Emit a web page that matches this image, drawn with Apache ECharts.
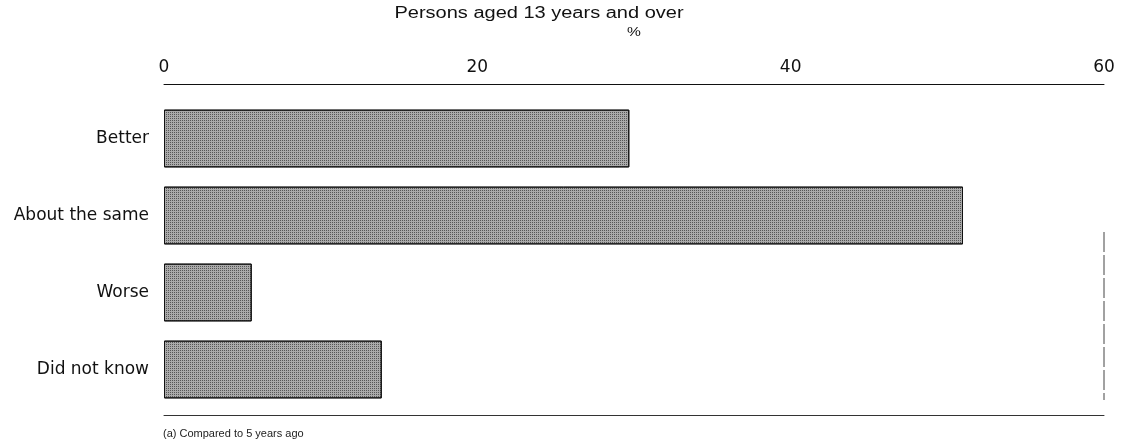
<!DOCTYPE html>
<html>
<head>
<meta charset="utf-8">
<script src="https://cdn.jsdelivr.net/npm/echarts@6/dist/echarts.min.js"></script>
<style>
  html, body { margin: 0; padding: 0; background: #fff; }
  #main { width: 1126px; height: 448px; }
</style>
</head>
<body>
<div id="main"></div>
<script>
var categories = ['Better', 'About the same', 'Worse', 'Did not know']
var values = [29.7, 51.0, 5.6, 13.9]
var xTicks = [0, 20, 40, 60]

var myChart = echarts.init(document.getElementById('main'))
var font = 'Liberation Sans, Arial, sans-serif'
var wide = 'DejaVu Sans, sans-serif'

myChart.setOption({
  animation: false,
  backgroundColor: '#fff',
  grid: { left: 164, right: 22, top: 100, height: 308 },
  xAxis: [
    {
      type: 'value',
      position: 'top',
      offset: 16,
      min: 0, max: 60, interval: 20,
      axisLine: { show: true, lineStyle: { color: '#111', width: 1 } },
      axisTick: { show: false },
      splitLine: { show: false },
      axisLabel: {
        margin: 8,
        fontFamily: wide, fontSize: 17, color: '#111',
        formatter: function (v) { return xTicks.indexOf(v) >= 0 ? String(v) : '' }
      }
    },
    {
      type: 'value',
      position: 'bottom',
      offset: 7,
      min: 0, max: 60, interval: 20,
      axisLine: { show: true, lineStyle: { color: '#333', width: 1 } },
      axisTick: { show: false },
      splitLine: { show: false },
      axisLabel: { show: false }
    }
  ],
  yAxis: {
    type: 'category',
    data: categories,
    inverse: true,
    axisLine: { show: false },
    axisTick: { show: false },
    splitLine: { show: false },
    axisLabel: { margin: 15, fontFamily: wide, fontSize: 17, color: '#111' }
  },
  graphic: [
    {
      type: 'text',
      x: 539, y: 6,
      scaleX: 1.25,
      style: {
        text: 'Persons aged 13 years and over',
        font: '16px ' + font, fill: '#111', align: 'center'
      }
    },
    {
      type: 'text',
      x: 634, y: 26,
      scaleX: 1.2,
      style: { text: '%', font: '13px ' + font, fill: '#111', align: 'center' }
    },
    {
      type: 'text',
      x: 163, y: 428,
      style: { text: '(a) Compared to 5 years ago', font: '11px ' + font, fill: '#222' }
    },
    {
      type: 'line',
      shape: { x1: 1104, y1: 232, x2: 1104, y2: 400 },
      style: { stroke: '#444', lineWidth: 1, lineDash: [20, 3] }
    }
  ],
  series: [
    {
      type: 'bar',
      data: values,
      barWidth: '75%',
      itemStyle: {
        color: '#aaaaaa',
        borderColor: '#111',
        borderWidth: 1,
        decal: {
          symbol: 'rect',
          symbolSize: 1,
          dashArrayX: [1, 1],
          dashArrayY: [1, 1],
          color: 'rgba(30,30,30,0.6)'
        }
      }
    }
  ]
})
</script>
</body>
</html>
